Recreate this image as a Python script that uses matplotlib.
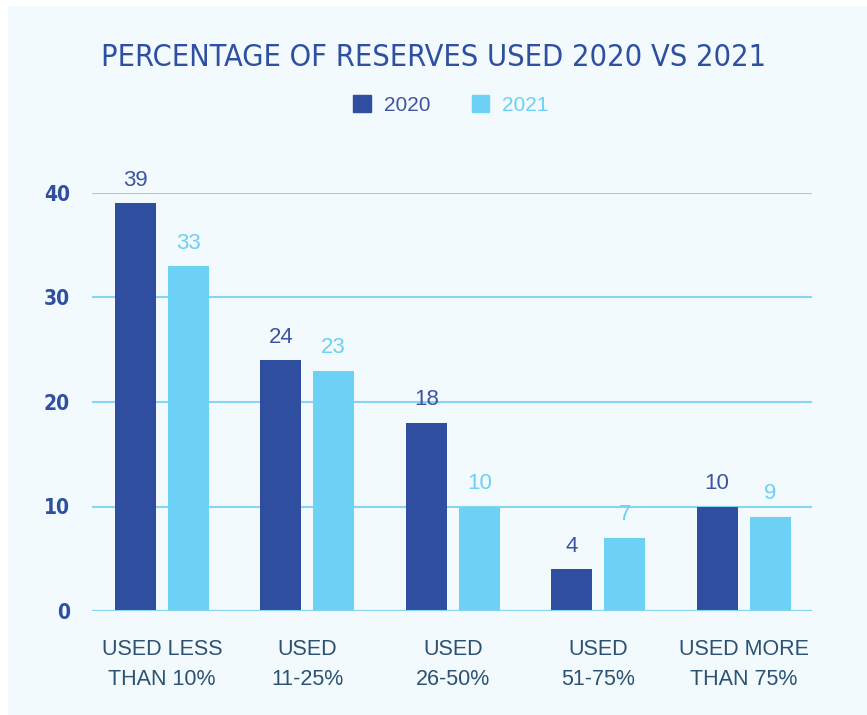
import numpy as np
import matplotlib.pyplot as plt
from matplotlib.patches import Patch, Rectangle

# 数据
categories = ["USED LESS\nTHAN 10%", "USED\n11-25%", "USED\n26-50%", "USED\n51-75%", "USED MORE\nTHAN 75%"]
values_2020 = [39, 24, 18, 4, 10]
values_2021 = [33, 23, 10, 7, 9]
years = ["2020", "2021"]
yticks = [0, 10, 20, 30, 40]

dark = "#304EA0"
light = "#6DD0F5"
grid_c = "#86D5F2"
bg = "#F2FAFE"

fig = plt.figure(figsize=(8.67, 7.15), dpi=100)
fig.patch.set_facecolor("white")
fig.patches.append(Rectangle((8 / 867, 0), 1, 1 - 6 / 715, transform=fig.transFigure,
                             facecolor=bg, edgecolor="none", zorder=-10))

ax = fig.add_axes([92 / 867, 104 / 715, 720 / 867, 418 / 715])
ax.set_facecolor("none")

x = np.arange(len(categories))
w = 0.282
off = 0.182
b1 = ax.bar(x - off, values_2020, w, color=dark, zorder=3)
b2 = ax.bar(x + off, values_2021, w, color=light, zorder=3)

# 柱子上方的数值
for bars, c in [(b1, "#3E54A0"), (b2, light)]:
    for r in bars:
        ax.text(r.get_x() + r.get_width() / 2, r.get_height() + 1.2, f"{r.get_height():.0f}",
                ha="center", va="bottom", fontsize=16, color=c, family="Liberation Sans",
                clip_on=False)

ax.set_xlim(-0.48, 4.47)
ax.set_ylim(0, 40)
ax.set_yticks(yticks)
ax.set_yticklabels([str(t) for t in yticks], fontsize=15, color="#2F4FA0",
                   family="DejaVu Sans", fontstretch="condensed", fontweight="semibold")
ax.yaxis.grid(True, color=grid_c, linewidth=1.5, zorder=0)
ax.axhline(0, color=grid_c, linewidth=1.5, zorder=4)
ax.tick_params(axis="y", length=0, pad=16)
ax.tick_params(axis="x", length=0, pad=20)
ax.set_xticks(x)
ax.set_xticklabels(categories, fontsize=15.5, color="#2B5272", family="Liberation Sans",
                   linespacing=1.6)
for s in ax.spines.values():
    s.set_visible(False)

fig.text(0.5, 1 - 58 / 715, "PERCENTAGE OF RESERVES USED 2020 VS 2021", ha="center", va="center",
         fontsize=22, color="#2F4FA0", family="DejaVu Sans", fontstretch="condensed")

handles = [Patch(color=dark), Patch(color=light)]
fig.legend(handles, years, loc="center", bbox_to_anchor=(0.52, 1 - 105 / 715), ncol=2,
           frameon=False, labelcolor=["#3E54A0", light], handlelength=0.85,
           handleheight=0.85, handletextpad=0.6, columnspacing=2.0,
           prop={"family": "Liberation Sans", "size": 15})

fig.savefig("out.png", dpi=100)
